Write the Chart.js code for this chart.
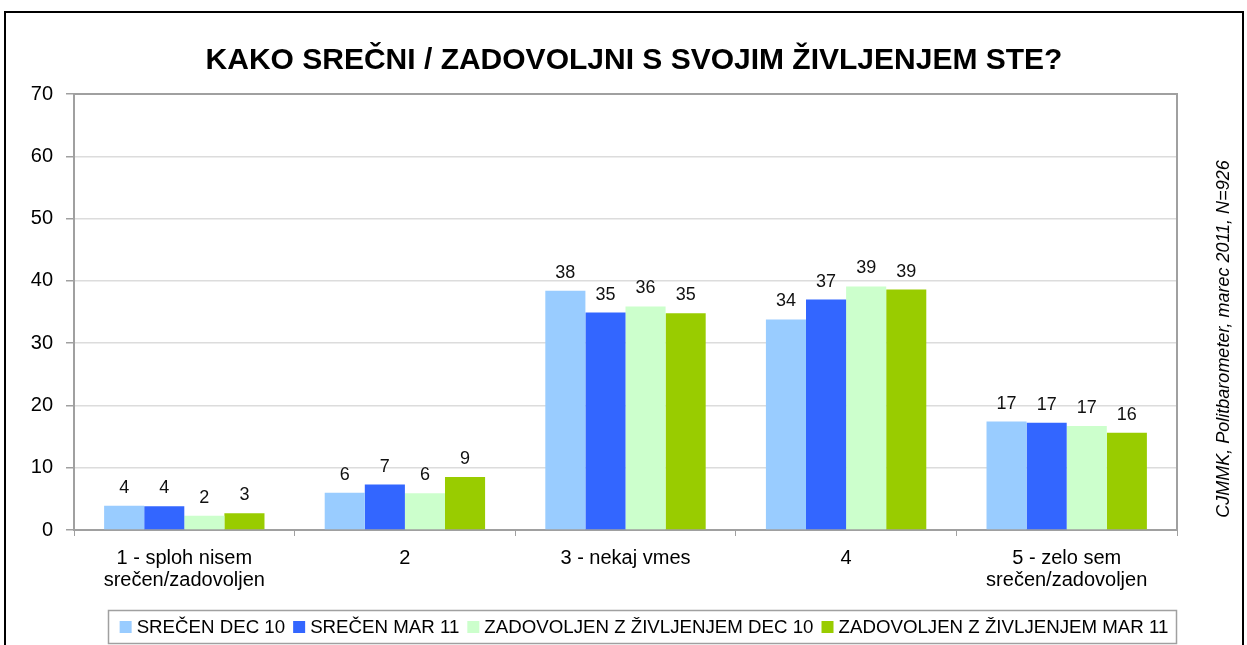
<!DOCTYPE html>
<html>
<head>
<meta charset="utf-8">
<script src="https://cdn.jsdelivr.net/npm/chart.js@4"></script>
<style>
  html, body { margin: 0; padding: 0; background: #fff; }
  #wrap { width: 1247px; height: 645px; position: relative; }
</style>
</head>
<body>
<div id="wrap"><canvas id="plot" width="1247" height="645"></canvas></div>
<script>
// categories and series
const categories = [
    ['1 - sploh nisem', 'srečen/zadovoljen'],
    '2',
    '3 - nekaj vmes',
    '4',
    ['5 - zelo sem', 'srečen/zadovoljen']
];
const srecenDec10 = [3.9, 6.0, 38.4, 33.8, 17.4];
const srecenMar11 = [3.8, 7.3, 34.9, 37.0, 17.2];
const zadovoljenDec10 = [2.3, 5.9, 35.9, 39.1, 16.7];
const zadovoljenMar11 = [2.7, 8.5, 34.8, 38.6, 15.6];
const seriesNames = ['SREČEN DEC 10', 'SREČEN MAR 11', 'ZADOVOLJEN Z ŽIVLJENJEM DEC 10', 'ZADOVOLJEN Z ŽIVLJENJEM MAR 11'];
const seriesColors = ['#99CCFF', '#3366FF', '#CCFFCC', '#99CC00'];
const yTicks = [0, 10, 20, 30, 40, 50, 60, 70];
const titleText = 'KAKO SREČNI / ZADOVOLJNI S SVOJIM ŽIVLJENJEM STE?';
const sourceText = 'CJMMK, Politbarometer, marec 2011, N=926';

const FONT = 'Arial, "Liberation Sans", sans-serif';

// frame, title, plot border, value labels, legend, source note
const decor = {
    id: 'decor',
    beforeDraw(chart) {
        const ctx = chart.ctx;
        ctx.save();
        ctx.fillStyle = '#fff';
        ctx.fillRect(0, 0, chart.width, chart.height);
        ctx.strokeStyle = '#000';
        ctx.lineWidth = 2;
        ctx.strokeRect(5, 12, 1238, 700);
        // title
        ctx.fillStyle = '#000';
        ctx.font = 'bold 30px ' + FONT;
        ctx.textAlign = 'center';
        ctx.textBaseline = 'alphabetic';
        ctx.fillText(titleText, 634, 69);
        ctx.restore();
    },
    afterDatasetsDraw(chart) {
        const ctx = chart.ctx;
        const a = chart.chartArea;
        ctx.save();
        // top + right edge of plot area
        ctx.strokeStyle = '#a0a0a0';
        ctx.lineWidth = 2;
        ctx.beginPath();
        ctx.moveTo(a.left, a.top);
        ctx.lineTo(a.right, a.top);
        ctx.lineTo(a.right, a.bottom);
        ctx.stroke();

        // value labels
        ctx.fillStyle = '#111';
        ctx.font = '18px ' + FONT;
        ctx.textAlign = 'center';
        ctx.textBaseline = 'alphabetic';
        chart.data.datasets.forEach((ds, i) => {
            chart.getDatasetMeta(i).data.forEach((bar, j) => {
                ctx.fillText(String(Math.round(ds.data[j])), bar.x, bar.y - 13);
            });
        });

        // legend
        ctx.font = '18.7px ' + FONT;
        ctx.textAlign = 'left';
        const sq = 12, gapIn = 5, gapOut = 8;
        let total = 0;
        const widths = seriesNames.map(n => ctx.measureText(n).width);
        widths.forEach((w, i) => { total += sq + gapIn + w + (i < widths.length - 1 ? gapOut : 0); });
        let x = 644 - total / 2;
        ctx.strokeStyle = '#a0a0a0';
        ctx.lineWidth = 1.5;
        ctx.strokeRect(108.5, 610.5, 1068, 33);
        seriesNames.forEach((n, i) => {
            ctx.fillStyle = seriesColors[i];
            ctx.fillRect(x, 621, sq, sq);
            ctx.fillStyle = '#000';
            ctx.fillText(n, x + sq + gapIn, 633);
            x += sq + gapIn + widths[i] + gapOut;
        });

        // source note
        ctx.translate(1224, 339);
        ctx.rotate(-Math.PI / 2);
        ctx.font = 'italic 18px ' + FONT;
        ctx.textAlign = 'center';
        ctx.textBaseline = 'middle';
        ctx.fillStyle = '#000';
        ctx.fillText(sourceText, 0, 0);
        ctx.restore();
    }
};

const data = {
    labels: categories,
    datasets: [srecenDec10, srecenMar11, zadovoljenDec10, zadovoljenMar11].map((vals, i) => ({
        label: seriesNames[i],
        data: vals,
        backgroundColor: seriesColors[i],
        borderWidth: 0,
        categoryPercentage: 0.727,
        barPercentage: 1.0
    }))
};

const config = {
    type: 'bar',
    data: data,
    options: {
        responsive: false,
        animation: false,
        layout: { padding: { top: 94, left: 0, right: 70, bottom: 45 } },
        plugins: {
            legend: { display: false },
            tooltip: { enabled: false },
            title: { display: false }
        },
        scales: {
            x: {
                afterFit(s) { s.height = 70; },
                grid: {
                    offset: true,
                    drawOnChartArea: false,
                    drawTicks: true,
                    tickLength: 6,
                    tickColor: '#a0a0a0'
                },
                border: { color: '#a0a0a0', width: 2 },
                ticks: {
                    color: '#000',
                    padding: 11,
                    maxRotation: 0,
                    font: { family: FONT, size: 20, lineHeight: 1.12 }
                }
            },
            y: {
                min: 0,
                max: 70,
                afterFit(s) { s.width = 74; },
                afterBuildTicks(s) { s.ticks = yTicks.map(v => ({ value: v })); },
                grid: {
                    color: '#dcdcdc',
                    lineWidth: 1.5,
                    tickLength: 8,
                    tickColor: '#a0a0a0'
                },
                border: { color: '#a0a0a0', width: 2 },
                ticks: {
                    color: '#000',
                    padding: 13,
                    font: { family: FONT, size: 20 }
                }
            }
        }
    },
    plugins: [decor]
};

let ctx = document.getElementById('plot').getContext('2d');
let chart = new Chart(ctx, config);
</script>
</body>
</html>
